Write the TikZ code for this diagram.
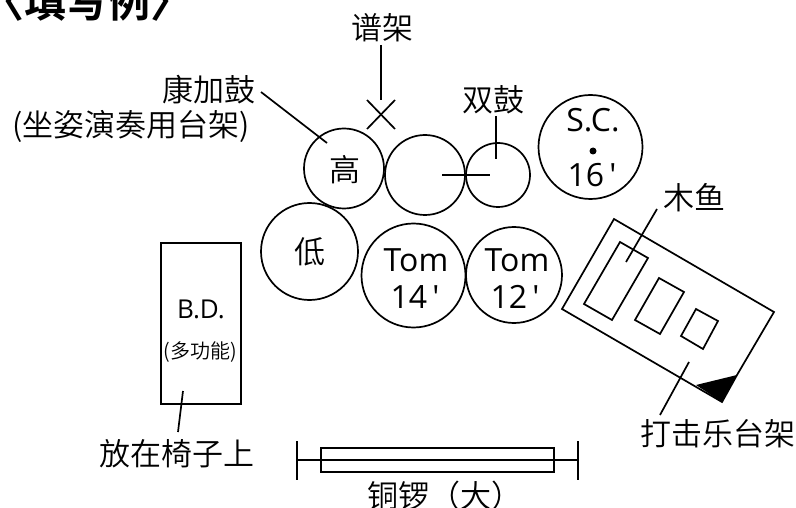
\documentclass[tikz,border=0pt]{standalone}
\usepackage{fontspec}
\setmainfont{Noto Sans CJK SC DemiLight}[BoldFont={Noto Sans CJK SC Bold}]
\newfontfamily\lat{Open Sans}
\usetikzlibrary{calc}
\tikzset{
  every node/.style={inner sep=0pt,outer sep=0pt},
  drum/.style={draw=black,circle,line width=1.7pt,minimum size=#1},
  boxshape/.style={draw=black,line width=1.7pt},
  leader/.style={draw=black,line width=1.7pt},
  cjk/.style={font=\fontsize{31}{31}\selectfont},
  latn/.style={font=\fontsize{32}{32}\selectfont\lat},
}
\begin{document}
\begin{tikzpicture}[x=1pt,y=-1pt]
\useasboundingbox (0,0) rectangle (796,508);
\fill[white] (0,0) rectangle (796,508);
% title
\node[font=\fontsize{42}{42}\selectfont\bfseries] (title) at (88,2) {〈填写例〉};
% drums
\node[drum=80pt] (hi) at (344,168.5) {};
\node[cjk] (hitxt) at (345,170) {高};
\node[drum=80pt] (mid) at (425,175) {};
\node[drum=64pt] (dbl) at (498,175) {};
\node[drum=104pt] (sc) at (590.5,147) {};
\node[drum=104pt] (t14) at (413.5,275.5) {};
\node[drum=96pt] (t12) at (514,275) {};
\node[drum=97pt,cjk] (lo) at (309.5,251.5) {低};
\node[latn] (sctxt) at (593,120) {S.C.};
\fill (593,151) circle (3.5pt);
\node[latn] (sctwo) at (592,175) {16\,\textquotesingle};
\node[latn] (tomA) at (416,260) {Tom};
\node[latn] (tomAn) at (415,297) {14\,\textquotesingle};
\node[latn] (tomB) at (517,260) {Tom};
\node[latn] (tomBn) at (515,297) {12\,\textquotesingle};
% labels
\node[cjk] (stand) at (382,27.5) {谱架};
\node[cjk] (conga) at (209,89.5) {康加鼓};
\node[cjk] (congab) at (131,126.5) {(坐姿演奏用台架)};
\node[cjk] (twin) at (493,99.5) {双鼓};
\node[cjk] (wood) at (694,197.5) {木鱼};
\node[cjk] (rack) at (718,433.5) {打击乐台架};
\node[cjk] (chair) at (177,453.5) {放在椅子上};
\node[cjk] (gong) at (445,496) {铜锣（大）};
% bass drum
\draw[boxshape] (161,243) rectangle (241,404);
\node[font=\fontsize{26}{26}\selectfont\lat] (bd) at (201,309) {B.D.};
\node[font=\fontsize{20}{20}\selectfont] (multi) at (200,352) {(多功能)};
% gong
\coordinate (gl) at (297,460);
\coordinate (gr) at (578,460);
\draw[leader] (gl) -- (gr);
\draw[leader] (297,441) -- (297,480);
\draw[leader] (578,441) -- (578,480);
\draw[boxshape] (321,448) rectangle (554,472);
% music stand X
\draw[leader] (367,129) -- (395,100);
\draw[leader] (367,100) -- (395,129);
\coordinate (a1) at (381,45); \coordinate (a2) at (381,100);
\draw[leader] (a1) -- (a2);
% conga leader
\coordinate (b1) at (261,92); \coordinate (b2) at (327,143);
\draw[leader] (b1) -- (b2);
% double drum leaders
\coordinate (c1) at (496,116); \coordinate (c2) at (496,159);
\draw[leader] (c1) -- (c2);
\coordinate (d1) at (442,175); \coordinate (d2) at (490,175);
\draw[leader] (d1) -- (d2);
% percussion rack
\draw[boxshape,line join=miter] (614,219) -- (774,312) -- (737,375) -- (722,402) -- (562,309) -- cycle;
\fill (737,375) -- (696,385) -- (722,402) -- cycle;
\draw[boxshape] (620,242) -- (648,258) -- (612,320) -- (584,304) -- cycle;
\draw[boxshape] (659,278) -- (684,292) -- (660,334) -- (635,320) -- cycle;
\draw[boxshape] (696,309) -- (718,321) -- (703,349) -- (681,336) -- cycle;
\coordinate (e1) at (657,209); \coordinate (e2) at (626,262);
\draw[leader] (e1) -- (e2);
\coordinate (f1) at (689,362); \coordinate (f2) at (660,415);
\draw[leader] (f1) -- (f2);
% chair leader
\coordinate (g1) at (183,391); \coordinate (g2) at (178,432);
\draw[leader] (g1) -- (g2);
\end{tikzpicture}
\end{document}
